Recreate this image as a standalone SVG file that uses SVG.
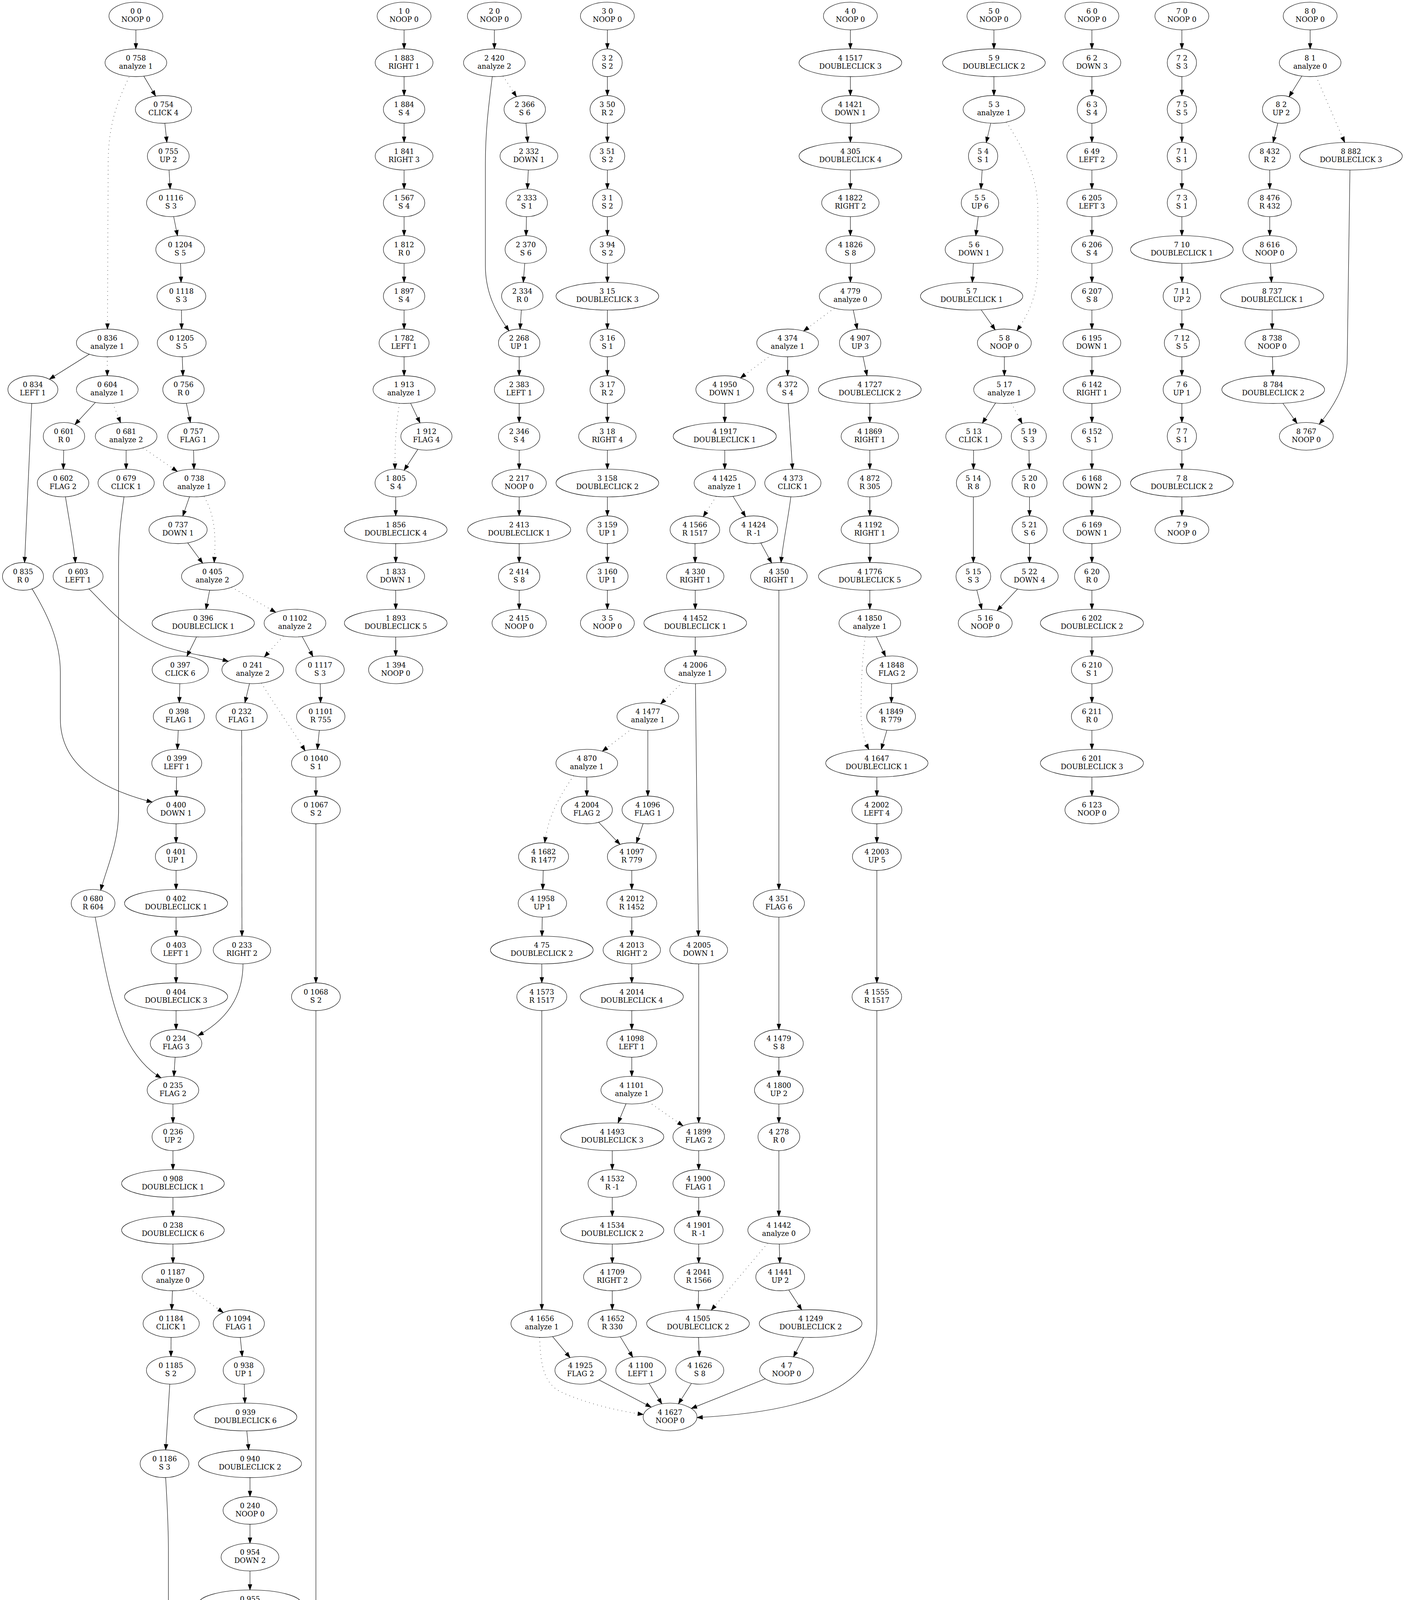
<svg xmlns="http://www.w3.org/2000/svg" width="3598" height="5467" viewBox="0 0 3598 5467">
<style>
.n ellipse{fill:none;stroke:#000;stroke-width:1.1}
text{font-family:"DejaVu Serif","Liberation Serif",serif;font-size:18px;text-anchor:middle;fill:#000}
.e path{fill:none;stroke:#000;stroke-width:1.1;marker-end:url(#a)}
.e path.d{stroke-width:1.3;stroke-dasharray:1.3 9.4}
</style>
<defs>
<marker id="a" markerUnits="userSpaceOnUse" markerWidth="14" markerHeight="10" refX="14" refY="5" orient="auto" overflow="visible">
<path d="M0,0L14,5L0,10Z" fill="#000" stroke="#000" stroke-width="1"/>
</marker>
</defs>
<rect width="3598" height="5467" fill="#fff"/>
<g id="nodes">
<!-- column 0 -->
<g id="n0_0" class="n"><ellipse cx="348" cy="41" rx="69" ry="35.5"/><text x="348" y="35">0 0<tspan x="348" dy="21">NOOP 0</tspan></text></g>
<g id="n0_758" class="n"><ellipse cx="348" cy="160.6" rx="79" ry="35.5"/><text x="348" y="154.6">0 758<tspan x="348" dy="21">analyze 1</tspan></text></g>
<g id="n0_754" class="n"><ellipse cx="418.6" cy="280.1" rx="72" ry="35.5"/><text x="418.6" y="274.1">0 754<tspan x="418.6" dy="21">CLICK 4</tspan></text></g>
<g id="n0_755" class="n"><ellipse cx="430.9" cy="399.7" rx="53.5" ry="35.5"/><text x="430.9" y="393.7">0 755<tspan x="430.9" dy="21">UP 2</tspan></text></g>
<g id="n0_1116" class="n"><ellipse cx="437.7" cy="519.2" rx="62.5" ry="35.5"/><text x="437.7" y="513.2">0 1116<tspan x="437.7" dy="21">S 3</tspan></text></g>
<g id="n0_1204" class="n"><ellipse cx="461.5" cy="638.8" rx="62.5" ry="35.5"/><text x="461.5" y="632.8">0 1204<tspan x="461.5" dy="21">S 5</tspan></text></g>
<g id="n0_1118" class="n"><ellipse cx="464.5" cy="758.3" rx="62.5" ry="35.5"/><text x="464.5" y="752.3">0 1118<tspan x="464.5" dy="21">S 3</tspan></text></g>
<g id="n0_1205" class="n"><ellipse cx="465.3" cy="877.9" rx="62.5" ry="35.5"/><text x="465.3" y="871.9">0 1205<tspan x="465.3" dy="21">S 5</tspan></text></g>
<g id="n0_836" class="n"><ellipse cx="274.7" cy="877.9" rx="79" ry="35.5"/><text x="274.7" y="871.9">0 836<tspan x="274.7" dy="21">analyze 1</tspan></text></g>
<g id="n0_834" class="n"><ellipse cx="84.2" cy="997.4" rx="64" ry="35.5"/><text x="84.2" y="991.4">0 834<tspan x="84.2" dy="21">LEFT 1</tspan></text></g>
<g id="n0_604" class="n"><ellipse cx="274.7" cy="997.4" rx="79" ry="35.5"/><text x="274.7" y="991.4">0 604<tspan x="274.7" dy="21">analyze 1</tspan></text></g>
<g id="n0_756" class="n"><ellipse cx="469.9" cy="997.4" rx="53" ry="35.5"/><text x="469.9" y="991.4">0 756<tspan x="469.9" dy="21">R 0</tspan></text></g>
<g id="n0_601" class="n"><ellipse cx="163.8" cy="1117" rx="53" ry="35.5"/><text x="163.8" y="1111">0 601<tspan x="163.8" dy="21">R 0</tspan></text></g>
<g id="n0_681" class="n"><ellipse cx="323" cy="1117" rx="79" ry="35.5"/><text x="323" y="1111">0 681<tspan x="323" dy="21">analyze 2</tspan></text></g>
<g id="n0_757" class="n"><ellipse cx="495" cy="1117" rx="65.5" ry="35.5"/><text x="495" y="1111">0 757<tspan x="495" dy="21">FLAG 1</tspan></text></g>
<g id="n0_602" class="n"><ellipse cx="161.5" cy="1236.5" rx="66" ry="35.5"/><text x="161.5" y="1230.5">0 602<tspan x="161.5" dy="21">FLAG 2</tspan></text></g>
<g id="n0_679" class="n"><ellipse cx="323" cy="1236.5" rx="72" ry="35.5"/><text x="323" y="1230.5">0 679<tspan x="323" dy="21">CLICK 1</tspan></text></g>
<g id="n0_738" class="n"><ellipse cx="497.4" cy="1236.5" rx="79" ry="35.5"/><text x="497.4" y="1230.5">0 738<tspan x="497.4" dy="21">analyze 1</tspan></text></g>
<g id="n0_737" class="n"><ellipse cx="456" cy="1356.1" rx="74.5" ry="35.5"/><text x="456" y="1350.1">0 737<tspan x="456" dy="21">DOWN 1</tspan></text></g>
<g id="n0_835" class="n"><ellipse cx="58.9" cy="1475.6" rx="52.5" ry="35.5"/><text x="58.9" y="1469.6">0 835<tspan x="58.9" dy="21">R 0</tspan></text></g>
<g id="n0_603" class="n"><ellipse cx="200" cy="1475.6" rx="64" ry="35.5"/><text x="200" y="1469.6">0 603<tspan x="200" dy="21">LEFT 1</tspan></text></g>
<g id="n0_405" class="n"><ellipse cx="543.8" cy="1475.6" rx="79" ry="35.5"/><text x="543.8" y="1469.6">0 405<tspan x="543.8" dy="21">analyze 2</tspan></text></g>
<g id="n0_396" class="n"><ellipse cx="520.5" cy="1595.2" rx="131" ry="35.5"/><text x="520.5" y="1589.2">0 396<tspan x="520.5" dy="21">DOUBLECLICK 1</tspan></text></g>
<g id="n0_1102" class="n"><ellipse cx="755.4" cy="1595.2" rx="79" ry="35.5"/><text x="755.4" y="1589.2">0 1102<tspan x="755.4" dy="21">analyze 2</tspan></text></g>
<g id="n0_397" class="n"><ellipse cx="461.6" cy="1714.7" rx="72" ry="35.5"/><text x="461.6" y="1708.7">0 397<tspan x="461.6" dy="21">CLICK 6</tspan></text></g>
<g id="n0_241" class="n"><ellipse cx="647.3" cy="1714.7" rx="79" ry="35.5"/><text x="647.3" y="1708.7">0 241<tspan x="647.3" dy="21">analyze 2</tspan></text></g>
<g id="n0_1117" class="n"><ellipse cx="819.6" cy="1714.7" rx="62" ry="35.5"/><text x="819.6" y="1708.7">0 1117<tspan x="819.6" dy="21">S 3</tspan></text></g>
<g id="n0_398" class="n"><ellipse cx="458" cy="1834.3" rx="65.5" ry="35.5"/><text x="458" y="1828.3">0 398<tspan x="458" dy="21">FLAG 1</tspan></text></g>
<g id="n0_232" class="n"><ellipse cx="618.8" cy="1834.3" rx="65.5" ry="35.5"/><text x="618.8" y="1828.3">0 232<tspan x="618.8" dy="21">FLAG 1</tspan></text></g>
<g id="n0_1101" class="n"><ellipse cx="821.4" cy="1834.3" rx="62" ry="35.5"/><text x="821.4" y="1828.3">0 1101<tspan x="821.4" dy="21">R 755</tspan></text></g>
<g id="n0_399" class="n"><ellipse cx="452.7" cy="1953.8" rx="64" ry="35.5"/><text x="452.7" y="1947.8">0 399<tspan x="452.7" dy="21">LEFT 1</tspan></text></g>
<g id="n0_1040" class="n"><ellipse cx="809" cy="1953.8" rx="62.5" ry="35.5"/><text x="809" y="1947.8">0 1040<tspan x="809" dy="21">S 1</tspan></text></g>
<g id="n0_400" class="n"><ellipse cx="450.9" cy="2073.4" rx="74" ry="35.5"/><text x="450.9" y="2067.4">0 400<tspan x="450.9" dy="21">DOWN 1</tspan></text></g>
<g id="n0_1067" class="n"><ellipse cx="809" cy="2073.4" rx="62.5" ry="35.5"/><text x="809" y="2067.4">0 1067<tspan x="809" dy="21">S 2</tspan></text></g>
<g id="n0_401" class="n"><ellipse cx="450.9" cy="2192.9" rx="53" ry="35.5"/><text x="450.9" y="2186.9">0 401<tspan x="450.9" dy="21">UP 1</tspan></text></g>
<g id="n0_680" class="n"><ellipse cx="238.4" cy="2312.5" rx="56" ry="35.5"/><text x="238.4" y="2306.5">0 680<tspan x="238.4" dy="21">R 604</tspan></text></g>
<g id="n0_402" class="n"><ellipse cx="450.9" cy="2312.5" rx="132" ry="35.5"/><text x="450.9" y="2306.5">0 402<tspan x="450.9" dy="21">DOUBLECLICK 1</tspan></text></g>
<g id="n0_403" class="n"><ellipse cx="450.9" cy="2432" rx="64" ry="35.5"/><text x="450.9" y="2426">0 403<tspan x="450.9" dy="21">LEFT 1</tspan></text></g>
<g id="n0_233" class="n"><ellipse cx="619.6" cy="2432" rx="73.5" ry="35.5"/><text x="619.6" y="2426">0 233<tspan x="619.6" dy="21">RIGHT 2</tspan></text></g>
<g id="n0_404" class="n"><ellipse cx="450.9" cy="2551.6" rx="132" ry="35.5"/><text x="450.9" y="2545.6">0 404<tspan x="450.9" dy="21">DOUBLECLICK 3</tspan></text></g>
<g id="n0_1068" class="n"><ellipse cx="809" cy="2551.6" rx="62.5" ry="35.5"/><text x="809" y="2545.6">0 1068<tspan x="809" dy="21">S 2</tspan></text></g>
<g id="n0_234" class="n"><ellipse cx="450.9" cy="2671.1" rx="66" ry="35.5"/><text x="450.9" y="2665.1">0 234<tspan x="450.9" dy="21">FLAG 3</tspan></text></g>
<g id="n0_235" class="n"><ellipse cx="442.9" cy="2790.7" rx="66" ry="35.5"/><text x="442.9" y="2784.7">0 235<tspan x="442.9" dy="21">FLAG 2</tspan></text></g>
<g id="n0_236" class="n"><ellipse cx="442.9" cy="2910.2" rx="53.5" ry="35.5"/><text x="442.9" y="2904.2">0 236<tspan x="442.9" dy="21">UP 2</tspan></text></g>
<g id="n0_908" class="n"><ellipse cx="442.9" cy="3029.8" rx="131.5" ry="35.5"/><text x="442.9" y="3023.8">0 908<tspan x="442.9" dy="21">DOUBLECLICK 1</tspan></text></g>
<g id="n0_238" class="n"><ellipse cx="442.9" cy="3149.3" rx="131.5" ry="35.5"/><text x="442.9" y="3143.3">0 238<tspan x="442.9" dy="21">DOUBLECLICK 6</tspan></text></g>
<g id="n0_1187" class="n"><ellipse cx="442.9" cy="3268.9" rx="79" ry="35.5"/><text x="442.9" y="3262.9">0 1187<tspan x="442.9" dy="21">analyze 0</tspan></text></g>
<g id="n0_1184" class="n"><ellipse cx="438.4" cy="3388.4" rx="72" ry="35.5"/><text x="438.4" y="3382.4">0 1184<tspan x="438.4" dy="21">CLICK 1</tspan></text></g>
<g id="n0_1094" class="n"><ellipse cx="611.6" cy="3388.4" rx="65.5" ry="35.5"/><text x="611.6" y="3382.4">0 1094<tspan x="611.6" dy="21">FLAG 1</tspan></text></g>
<g id="n0_1185" class="n"><ellipse cx="437.5" cy="3508" rx="62.5" ry="35.5"/><text x="437.5" y="3502">0 1185<tspan x="437.5" dy="21">S 2</tspan></text></g>
<g id="n0_938" class="n"><ellipse cx="624" cy="3508" rx="52.5" ry="35.5"/><text x="624" y="3502">0 938<tspan x="624" dy="21">UP 1</tspan></text></g>
<g id="n0_939" class="n"><ellipse cx="628.6" cy="3627.5" rx="131.5" ry="35.5"/><text x="628.6" y="3621.5">0 939<tspan x="628.6" dy="21">DOUBLECLICK 6</tspan></text></g>
<g id="n0_1186" class="n"><ellipse cx="421.4" cy="3747.1" rx="62.5" ry="35.5"/><text x="421.4" y="3741.1">0 1186<tspan x="421.4" dy="21">S 3</tspan></text></g>
<g id="n0_940" class="n"><ellipse cx="640.2" cy="3747.1" rx="132" ry="35.5"/><text x="640.2" y="3741.1">0 940<tspan x="640.2" dy="21">DOUBLECLICK 2</tspan></text></g>
<g id="n0_240" class="n"><ellipse cx="640.2" cy="3866.6" rx="69" ry="35.5"/><text x="640.2" y="3860.6">0 240<tspan x="640.2" dy="21">NOOP 0</tspan></text></g>
<g id="n0_954" class="n"><ellipse cx="640.2" cy="3986.2" rx="74" ry="35.5"/><text x="640.2" y="3980.2">0 954<tspan x="640.2" dy="21">DOWN 2</tspan></text></g>
<g id="n0_955" class="n"><ellipse cx="640.2" cy="4105.7" rx="132" ry="35.5"/><text x="640.2" y="4099.7">0 955<tspan x="640.2" dy="21">DOUBLECLICK 5</tspan></text></g>
<g id="n0_1104" class="n"><ellipse cx="640.2" cy="4225.3" rx="79" ry="35.5"/><text x="640.2" y="4219.3">0 1104<tspan x="640.2" dy="21">analyze 1</tspan></text></g>
<g id="n0_1037" class="n"><ellipse cx="675.9" cy="4344.8" rx="62.5" ry="35.5"/><text x="675.9" y="4338.8">0 1037<tspan x="675.9" dy="21">S 1</tspan></text></g>
<g id="n0_1103" class="n"><ellipse cx="549.1" cy="4464.4" rx="66" ry="35.5"/><text x="549.1" y="4458.4">0 1103<tspan x="549.1" dy="21">FLAG 6</tspan></text></g>
<g id="n0_1038" class="n"><ellipse cx="701.8" cy="4464.4" rx="62.5" ry="35.5"/><text x="701.8" y="4458.4">0 1038<tspan x="701.8" dy="21">S 1</tspan></text></g>
<g id="n0_1039" class="n"><ellipse cx="684" cy="4583.9" rx="62.5" ry="35.5"/><text x="684" y="4577.9">0 1039<tspan x="684" dy="21">S 1</tspan></text></g>
<g id="n0_956" class="n"><ellipse cx="610.7" cy="4703.5" rx="69.5" ry="35.5"/><text x="610.7" y="4697.5">0 956<tspan x="610.7" dy="21">NOOP 0</tspan></text></g>
<g id="n0_1225" class="n"><ellipse cx="571.4" cy="4823" rx="62.5" ry="35.5"/><text x="571.4" y="4817">0 1225<tspan x="571.4" dy="21">S 7</tspan></text></g>
<g id="n0_1066" class="n"><ellipse cx="533" cy="4942.6" rx="62" ry="35.5"/><text x="533" y="4936.6">0 1066<tspan x="533" dy="21">S 2</tspan></text></g>
<g id="n0_1115" class="n"><ellipse cx="479.5" cy="5062.1" rx="62.5" ry="35.5"/><text x="479.5" y="5056.1">0 1115<tspan x="479.5" dy="21">S 3</tspan></text></g>
<g id="n0_1203" class="n"><ellipse cx="479.5" cy="5181.7" rx="62.5" ry="35.5"/><text x="479.5" y="5175.7">0 1203<tspan x="479.5" dy="21">S 5</tspan></text></g>
<g id="n0_1224" class="n"><ellipse cx="479.5" cy="5301.2" rx="62.5" ry="35.5"/><text x="479.5" y="5295.2">0 1224<tspan x="479.5" dy="21">S 7</tspan></text></g>
<g id="n0_1218" class="n"><ellipse cx="479.5" cy="5420.8" rx="69.5" ry="35.5"/><text x="479.5" y="5414.8">0 1218<tspan x="479.5" dy="21">NOOP 0</tspan></text></g>
<!-- column 1 -->
<g id="n1_0" class="n"><ellipse cx="1034.8" cy="41" rx="69" ry="35.5"/><text x="1034.8" y="35">1 0<tspan x="1034.8" dy="21">NOOP 0</tspan></text></g>
<g id="n1_883" class="n"><ellipse cx="1034.8" cy="160.6" rx="74" ry="35.5"/><text x="1034.8" y="154.6">1 883<tspan x="1034.8" dy="21">RIGHT 1</tspan></text></g>
<g id="n1_884" class="n"><ellipse cx="1034.8" cy="280.1" rx="53" ry="35.5"/><text x="1034.8" y="274.1">1 884<tspan x="1034.8" dy="21">S 4</tspan></text></g>
<g id="n1_841" class="n"><ellipse cx="1034.8" cy="399.7" rx="74" ry="35.5"/><text x="1034.8" y="393.7">1 841<tspan x="1034.8" dy="21">RIGHT 3</tspan></text></g>
<g id="n1_567" class="n"><ellipse cx="1034.8" cy="519.2" rx="53" ry="35.5"/><text x="1034.8" y="513.2">1 567<tspan x="1034.8" dy="21">S 4</tspan></text></g>
<g id="n1_812" class="n"><ellipse cx="1034.8" cy="638.8" rx="53" ry="35.5"/><text x="1034.8" y="632.8">1 812<tspan x="1034.8" dy="21">R 0</tspan></text></g>
<g id="n1_897" class="n"><ellipse cx="1034.8" cy="758.3" rx="53" ry="35.5"/><text x="1034.8" y="752.3">1 897<tspan x="1034.8" dy="21">S 4</tspan></text></g>
<g id="n1_782" class="n"><ellipse cx="1034.8" cy="877.9" rx="64" ry="35.5"/><text x="1034.8" y="871.9">1 782<tspan x="1034.8" dy="21">LEFT 1</tspan></text></g>
<g id="n1_913" class="n"><ellipse cx="1034.8" cy="997.4" rx="79.5" ry="35.5"/><text x="1034.8" y="991.4">1 913<tspan x="1034.8" dy="21">analyze 1</tspan></text></g>
<g id="n1_912" class="n"><ellipse cx="1092" cy="1117" rx="65.5" ry="35.5"/><text x="1092" y="1111">1 912<tspan x="1092" dy="21">FLAG 4</tspan></text></g>
<g id="n1_805" class="n"><ellipse cx="1013.4" cy="1236.5" rx="53" ry="35.5"/><text x="1013.4" y="1230.5">1 805<tspan x="1013.4" dy="21">S 4</tspan></text></g>
<g id="n1_856" class="n"><ellipse cx="1013.4" cy="1356.1" rx="131.5" ry="35.5"/><text x="1013.4" y="1350.1">1 856<tspan x="1013.4" dy="21">DOUBLECLICK 4</tspan></text></g>
<g id="n1_833" class="n"><ellipse cx="1013.4" cy="1475.6" rx="74" ry="35.5"/><text x="1013.4" y="1469.6">1 833<tspan x="1013.4" dy="21">DOWN 1</tspan></text></g>
<g id="n1_893" class="n"><ellipse cx="1013.4" cy="1595.2" rx="131.5" ry="35.5"/><text x="1013.4" y="1589.2">1 893<tspan x="1013.4" dy="21">DOUBLECLICK 5</tspan></text></g>
<g id="n1_394" class="n"><ellipse cx="1013.4" cy="1714.7" rx="69.5" ry="35.5"/><text x="1013.4" y="1708.7">1 394<tspan x="1013.4" dy="21">NOOP 0</tspan></text></g>
<!-- column 2 -->
<g id="n2_0" class="n"><ellipse cx="1266" cy="41" rx="69" ry="35.5"/><text x="1266" y="35">2 0<tspan x="1266" dy="21">NOOP 0</tspan></text></g>
<g id="n2_420" class="n"><ellipse cx="1266" cy="160.6" rx="79" ry="35.5"/><text x="1266" y="154.6">2 420<tspan x="1266" dy="21">analyze 2</tspan></text></g>
<g id="n2_366" class="n"><ellipse cx="1343.8" cy="280.1" rx="53" ry="35.5"/><text x="1343.8" y="274.1">2 366<tspan x="1343.8" dy="21">S 6</tspan></text></g>
<g id="n2_332" class="n"><ellipse cx="1354.5" cy="399.7" rx="74" ry="35.5"/><text x="1354.5" y="393.7">2 332<tspan x="1354.5" dy="21">DOWN 1</tspan></text></g>
<g id="n2_333" class="n"><ellipse cx="1349" cy="519.2" rx="53" ry="35.5"/><text x="1349" y="513.2">2 333<tspan x="1349" dy="21">S 1</tspan></text></g>
<g id="n2_370" class="n"><ellipse cx="1346.4" cy="638.8" rx="53" ry="35.5"/><text x="1346.4" y="632.8">2 370<tspan x="1346.4" dy="21">S 6</tspan></text></g>
<g id="n2_334" class="n"><ellipse cx="1337.5" cy="758.3" rx="53" ry="35.5"/><text x="1337.5" y="752.3">2 334<tspan x="1337.5" dy="21">R 0</tspan></text></g>
<g id="n2_268" class="n"><ellipse cx="1329.5" cy="877.9" rx="53" ry="35.5"/><text x="1329.5" y="871.9">2 268<tspan x="1329.5" dy="21">UP 1</tspan></text></g>
<g id="n2_383" class="n"><ellipse cx="1329.5" cy="997.4" rx="63.5" ry="35.5"/><text x="1329.5" y="991.4">2 383<tspan x="1329.5" dy="21">LEFT 1</tspan></text></g>
<g id="n2_346" class="n"><ellipse cx="1329.5" cy="1117" rx="53" ry="35.5"/><text x="1329.5" y="1111">2 346<tspan x="1329.5" dy="21">S 4</tspan></text></g>
<g id="n2_217" class="n"><ellipse cx="1329.5" cy="1236.5" rx="69.5" ry="35.5"/><text x="1329.5" y="1230.5">2 217<tspan x="1329.5" dy="21">NOOP 0</tspan></text></g>
<g id="n2_413" class="n"><ellipse cx="1329.5" cy="1356.1" rx="132" ry="35.5"/><text x="1329.5" y="1350.1">2 413<tspan x="1329.5" dy="21">DOUBLECLICK 1</tspan></text></g>
<g id="n2_414" class="n"><ellipse cx="1329.5" cy="1475.6" rx="53" ry="35.5"/><text x="1329.5" y="1469.6">2 414<tspan x="1329.5" dy="21">S 8</tspan></text></g>
<g id="n2_415" class="n"><ellipse cx="1329.5" cy="1595.2" rx="69.5" ry="35.5"/><text x="1329.5" y="1589.2">2 415<tspan x="1329.5" dy="21">NOOP 0</tspan></text></g>
<!-- column 3 -->
<g id="n3_0" class="n"><ellipse cx="1555.4" cy="41" rx="69" ry="35.5"/><text x="1555.4" y="35">3 0<tspan x="1555.4" dy="21">NOOP 0</tspan></text></g>
<g id="n3_2" class="n"><ellipse cx="1555.4" cy="160.6" rx="38" ry="35.5"/><text x="1555.4" y="154.6">3 2<tspan x="1555.4" dy="21">S 2</tspan></text></g>
<g id="n3_50" class="n"><ellipse cx="1555.4" cy="280.1" rx="44.5" ry="35.5"/><text x="1555.4" y="274.1">3 50<tspan x="1555.4" dy="21">R 2</tspan></text></g>
<g id="n3_51" class="n"><ellipse cx="1555.4" cy="399.7" rx="44.5" ry="35.5"/><text x="1555.4" y="393.7">3 51<tspan x="1555.4" dy="21">S 2</tspan></text></g>
<g id="n3_1" class="n"><ellipse cx="1555.4" cy="519.2" rx="38" ry="35.5"/><text x="1555.4" y="513.2">3 1<tspan x="1555.4" dy="21">S 2</tspan></text></g>
<g id="n3_94" class="n"><ellipse cx="1555.4" cy="638.8" rx="44.5" ry="35.5"/><text x="1555.4" y="632.8">3 94<tspan x="1555.4" dy="21">S 2</tspan></text></g>
<g id="n3_15" class="n"><ellipse cx="1555.4" cy="758.3" rx="131.5" ry="35.5"/><text x="1555.4" y="752.3">3 15<tspan x="1555.4" dy="21">DOUBLECLICK 3</tspan></text></g>
<g id="n3_16" class="n"><ellipse cx="1555.4" cy="877.9" rx="44.5" ry="35.5"/><text x="1555.4" y="871.9">3 16<tspan x="1555.4" dy="21">S 1</tspan></text></g>
<g id="n3_17" class="n"><ellipse cx="1555.4" cy="997.4" rx="44.5" ry="35.5"/><text x="1555.4" y="991.4">3 17<tspan x="1555.4" dy="21">R 2</tspan></text></g>
<g id="n3_18" class="n"><ellipse cx="1555.4" cy="1117" rx="73.5" ry="35.5"/><text x="1555.4" y="1111">3 18<tspan x="1555.4" dy="21">RIGHT 4</tspan></text></g>
<g id="n3_158" class="n"><ellipse cx="1555.4" cy="1236.5" rx="131.5" ry="35.5"/><text x="1555.4" y="1230.5">3 158<tspan x="1555.4" dy="21">DOUBLECLICK 2</tspan></text></g>
<g id="n3_159" class="n"><ellipse cx="1555.4" cy="1356.1" rx="52.5" ry="35.5"/><text x="1555.4" y="1350.1">3 159<tspan x="1555.4" dy="21">UP 1</tspan></text></g>
<g id="n3_160" class="n"><ellipse cx="1555.4" cy="1475.6" rx="53" ry="35.5"/><text x="1555.4" y="1469.6">3 160<tspan x="1555.4" dy="21">UP 1</tspan></text></g>
<g id="n3_5" class="n"><ellipse cx="1555.4" cy="1595.2" rx="69" ry="35.5"/><text x="1555.4" y="1589.2">3 5<tspan x="1555.4" dy="21">NOOP 0</tspan></text></g>
<!-- column 4 -->
<g id="n4_0" class="n"><ellipse cx="2177.7" cy="41" rx="69" ry="35.5"/><text x="2177.7" y="35">4 0<tspan x="2177.7" dy="21">NOOP 0</tspan></text></g>
<g id="n4_1517" class="n"><ellipse cx="2177.7" cy="160.6" rx="131.5" ry="35.5"/><text x="2177.7" y="154.6">4 1517<tspan x="2177.7" dy="21">DOUBLECLICK 3</tspan></text></g>
<g id="n4_1421" class="n"><ellipse cx="2177.7" cy="280.1" rx="73.5" ry="35.5"/><text x="2177.7" y="274.1">4 1421<tspan x="2177.7" dy="21">DOWN 1</tspan></text></g>
<g id="n4_305" class="n"><ellipse cx="2177.7" cy="399.7" rx="131.5" ry="35.5"/><text x="2177.7" y="393.7">4 305<tspan x="2177.7" dy="21">DOUBLECLICK 4</tspan></text></g>
<g id="n4_1822" class="n"><ellipse cx="2177.7" cy="519.2" rx="73.5" ry="35.5"/><text x="2177.7" y="513.2">4 1822<tspan x="2177.7" dy="21">RIGHT 2</tspan></text></g>
<g id="n4_1826" class="n"><ellipse cx="2177.7" cy="638.8" rx="62.5" ry="35.5"/><text x="2177.7" y="632.8">4 1826<tspan x="2177.7" dy="21">S 8</tspan></text></g>
<g id="n4_779" class="n"><ellipse cx="2177.7" cy="758.3" rx="79.5" ry="35.5"/><text x="2177.7" y="752.3">4 779<tspan x="2177.7" dy="21">analyze 0</tspan></text></g>
<g id="n4_374" class="n"><ellipse cx="2017" cy="877.9" rx="79" ry="35.5"/><text x="2017" y="871.9">4 374<tspan x="2017" dy="21">analyze 1</tspan></text></g>
<g id="n4_907" class="n"><ellipse cx="2202.7" cy="877.9" rx="53" ry="35.5"/><text x="2202.7" y="871.9">4 907<tspan x="2202.7" dy="21">UP 3</tspan></text></g>
<g id="n4_1950" class="n"><ellipse cx="1856" cy="997.4" rx="74" ry="35.5"/><text x="1856" y="991.4">4 1950<tspan x="1856" dy="21">DOWN 1</tspan></text></g>
<g id="n4_372" class="n"><ellipse cx="2017" cy="997.4" rx="53" ry="35.5"/><text x="2017" y="991.4">4 372<tspan x="2017" dy="21">S 4</tspan></text></g>
<g id="n4_1727" class="n"><ellipse cx="2227.5" cy="997.4" rx="131.5" ry="35.5"/><text x="2227.5" y="991.4">4 1727<tspan x="2227.5" dy="21">DOUBLECLICK 2</tspan></text></g>
<g id="n4_1917" class="n"><ellipse cx="1856" cy="1117" rx="132" ry="35.5"/><text x="1856" y="1111">4 1917<tspan x="1856" dy="21">DOUBLECLICK 1</tspan></text></g>
<g id="n4_1869" class="n"><ellipse cx="2227.5" cy="1117" rx="73.5" ry="35.5"/><text x="2227.5" y="1111">4 1869<tspan x="2227.5" dy="21">RIGHT 1</tspan></text></g>
<g id="n4_1425" class="n"><ellipse cx="1856" cy="1236.5" rx="78.5" ry="35.5"/><text x="1856" y="1230.5">4 1425<tspan x="1856" dy="21">analyze 1</tspan></text></g>
<g id="n4_373" class="n"><ellipse cx="2030.4" cy="1236.5" rx="72" ry="35.5"/><text x="2030.4" y="1230.5">4 373<tspan x="2030.4" dy="21">CLICK 1</tspan></text></g>
<g id="n4_872" class="n"><ellipse cx="2227.5" cy="1236.5" rx="56" ry="35.5"/><text x="2227.5" y="1230.5">4 872<tspan x="2227.5" dy="21">R 305</tspan></text></g>
<g id="n4_1566" class="n"><ellipse cx="1779.5" cy="1356.1" rx="63.5" ry="35.5"/><text x="1779.5" y="1350.1">4 1566<tspan x="1779.5" dy="21">R 1517</tspan></text></g>
<g id="n4_1424" class="n"><ellipse cx="1930" cy="1356.1" rx="61.5" ry="35.5"/><text x="1930" y="1350.1">4 1424<tspan x="1930" dy="21">R -1</tspan></text></g>
<g id="n4_1192" class="n"><ellipse cx="2227.5" cy="1356.1" rx="73.5" ry="35.5"/><text x="2227.5" y="1350.1">4 1192<tspan x="2227.5" dy="21">RIGHT 1</tspan></text></g>
<g id="n4_330" class="n"><ellipse cx="1780.4" cy="1475.6" rx="73.5" ry="35.5"/><text x="1780.4" y="1469.6">4 330<tspan x="1780.4" dy="21">RIGHT 1</tspan></text></g>
<g id="n4_350" class="n"><ellipse cx="1994.6" cy="1475.6" rx="72.5" ry="35.5"/><text x="1994.6" y="1469.6">4 350<tspan x="1994.6" dy="21">RIGHT 1</tspan></text></g>
<g id="n4_1776" class="n"><ellipse cx="2227.5" cy="1475.6" rx="131.5" ry="35.5"/><text x="2227.5" y="1469.6">4 1776<tspan x="2227.5" dy="21">DOUBLECLICK 5</tspan></text></g>
<g id="n4_1452" class="n"><ellipse cx="1780.4" cy="1595.2" rx="131.5" ry="35.5"/><text x="1780.4" y="1589.2">4 1452<tspan x="1780.4" dy="21">DOUBLECLICK 1</tspan></text></g>
<g id="n4_1850" class="n"><ellipse cx="2227.5" cy="1595.2" rx="79" ry="35.5"/><text x="2227.5" y="1589.2">4 1850<tspan x="2227.5" dy="21">analyze 1</tspan></text></g>
<g id="n4_2006" class="n"><ellipse cx="1780.4" cy="1714.7" rx="78.5" ry="35.5"/><text x="1780.4" y="1708.7">4 2006<tspan x="1780.4" dy="21">analyze 1</tspan></text></g>
<g id="n4_1848" class="n"><ellipse cx="2284" cy="1714.7" rx="65.5" ry="35.5"/><text x="2284" y="1708.7">4 1848<tspan x="2284" dy="21">FLAG 2</tspan></text></g>
<g id="n4_1477" class="n"><ellipse cx="1659" cy="1834.3" rx="79" ry="35.5"/><text x="1659" y="1828.3">4 1477<tspan x="1659" dy="21">analyze 1</tspan></text></g>
<g id="n4_1849" class="n"><ellipse cx="2282" cy="1834.3" rx="62.5" ry="35.5"/><text x="2282" y="1828.3">4 1849<tspan x="2282" dy="21">R 779</tspan></text></g>
<g id="n4_870" class="n"><ellipse cx="1502.7" cy="1953.8" rx="79" ry="35.5"/><text x="1502.7" y="1947.8">4 870<tspan x="1502.7" dy="21">analyze 1</tspan></text></g>
<g id="n4_1647" class="n"><ellipse cx="2245.5" cy="1953.8" rx="131" ry="35.5"/><text x="2245.5" y="1947.8">4 1647<tspan x="2245.5" dy="21">DOUBLECLICK 1</tspan></text></g>
<g id="n4_2004" class="n"><ellipse cx="1502.7" cy="2073.4" rx="65.5" ry="35.5"/><text x="1502.7" y="2067.4">4 2004<tspan x="1502.7" dy="21">FLAG 2</tspan></text></g>
<g id="n4_1096" class="n"><ellipse cx="1659" cy="2073.4" rx="66" ry="35.5"/><text x="1659" y="2067.4">4 1096<tspan x="1659" dy="21">FLAG 1</tspan></text></g>
<g id="n4_2002" class="n"><ellipse cx="2245.5" cy="2073.4" rx="64" ry="35.5"/><text x="2245.5" y="2067.4">4 2002<tspan x="2245.5" dy="21">LEFT 4</tspan></text></g>
<g id="n4_1682" class="n"><ellipse cx="1392" cy="2192.9" rx="64" ry="35.5"/><text x="1392" y="2186.9">4 1682<tspan x="1392" dy="21">R 1477</tspan></text></g>
<g id="n4_1097" class="n"><ellipse cx="1617.9" cy="2192.9" rx="62.5" ry="35.5"/><text x="1617.9" y="2186.9">4 1097<tspan x="1617.9" dy="21">R 779</tspan></text></g>
<g id="n4_2003" class="n"><ellipse cx="2245.5" cy="2192.9" rx="62.5" ry="35.5"/><text x="2245.5" y="2186.9">4 2003<tspan x="2245.5" dy="21">UP 5</tspan></text></g>
<g id="n4_1958" class="n"><ellipse cx="1389" cy="2312.5" rx="62" ry="35.5"/><text x="1389" y="2306.5">4 1958<tspan x="1389" dy="21">UP 1</tspan></text></g>
<g id="n4_2012" class="n"><ellipse cx="1617.9" cy="2312.5" rx="64" ry="35.5"/><text x="1617.9" y="2306.5">4 2012<tspan x="1617.9" dy="21">R 1452</tspan></text></g>
<g id="n4_351" class="n"><ellipse cx="1994.6" cy="2312.5" rx="65.5" ry="35.5"/><text x="1994.6" y="2306.5">4 351<tspan x="1994.6" dy="21">FLAG 6</tspan></text></g>
<g id="n4_75" class="n"><ellipse cx="1387.5" cy="2432" rx="131.5" ry="35.5"/><text x="1387.5" y="2426">4 75<tspan x="1387.5" dy="21">DOUBLECLICK 2</tspan></text></g>
<g id="n4_2013" class="n"><ellipse cx="1617.9" cy="2432" rx="73.5" ry="35.5"/><text x="1617.9" y="2426">4 2013<tspan x="1617.9" dy="21">RIGHT 2</tspan></text></g>
<g id="n4_2005" class="n"><ellipse cx="1789.3" cy="2432" rx="74" ry="35.5"/><text x="1789.3" y="2426">4 2005<tspan x="1789.3" dy="21">DOWN 1</tspan></text></g>
<g id="n4_1573" class="n"><ellipse cx="1387.5" cy="2551.6" rx="64" ry="35.5"/><text x="1387.5" y="2545.6">4 1573<tspan x="1387.5" dy="21">R 1517</tspan></text></g>
<g id="n4_2014" class="n"><ellipse cx="1617.9" cy="2551.6" rx="132" ry="35.5"/><text x="1617.9" y="2545.6">4 2014<tspan x="1617.9" dy="21">DOUBLECLICK 4</tspan></text></g>
<g id="n4_1555" class="n"><ellipse cx="2245.5" cy="2551.6" rx="63.5" ry="35.5"/><text x="2245.5" y="2545.6">4 1555<tspan x="2245.5" dy="21">R 1517</tspan></text></g>
<g id="n4_1098" class="n"><ellipse cx="1617.9" cy="2671.1" rx="64" ry="35.5"/><text x="1617.9" y="2665.1">4 1098<tspan x="1617.9" dy="21">LEFT 1</tspan></text></g>
<g id="n4_1479" class="n"><ellipse cx="1994.6" cy="2671.1" rx="62.5" ry="35.5"/><text x="1994.6" y="2665.1">4 1479<tspan x="1994.6" dy="21">S 8</tspan></text></g>
<g id="n4_1101" class="n"><ellipse cx="1617.9" cy="2790.7" rx="79" ry="35.5"/><text x="1617.9" y="2784.7">4 1101<tspan x="1617.9" dy="21">analyze 1</tspan></text></g>
<g id="n4_1800" class="n"><ellipse cx="1994.6" cy="2790.7" rx="62.5" ry="35.5"/><text x="1994.6" y="2784.7">4 1800<tspan x="1994.6" dy="21">UP 2</tspan></text></g>
<g id="n4_1493" class="n"><ellipse cx="1567.9" cy="2910.2" rx="132" ry="35.5"/><text x="1567.9" y="2904.2">4 1493<tspan x="1567.9" dy="21">DOUBLECLICK 3</tspan></text></g>
<g id="n4_1899" class="n"><ellipse cx="1789.3" cy="2910.2" rx="66" ry="35.5"/><text x="1789.3" y="2904.2">4 1899<tspan x="1789.3" dy="21">FLAG 2</tspan></text></g>
<g id="n4_278" class="n"><ellipse cx="1994.6" cy="2910.2" rx="53.5" ry="35.5"/><text x="1994.6" y="2904.2">4 278<tspan x="1994.6" dy="21">R 0</tspan></text></g>
<g id="n4_1532" class="n"><ellipse cx="1567.9" cy="3029.8" rx="62" ry="35.5"/><text x="1567.9" y="3023.8">4 1532<tspan x="1567.9" dy="21">R -1</tspan></text></g>
<g id="n4_1900" class="n"><ellipse cx="1789.3" cy="3029.8" rx="66" ry="35.5"/><text x="1789.3" y="3023.8">4 1900<tspan x="1789.3" dy="21">FLAG 1</tspan></text></g>
<g id="n4_1534" class="n"><ellipse cx="1567.9" cy="3149.3" rx="132" ry="35.5"/><text x="1567.9" y="3143.3">4 1534<tspan x="1567.9" dy="21">DOUBLECLICK 2</tspan></text></g>
<g id="n4_1901" class="n"><ellipse cx="1789.3" cy="3149.3" rx="62.5" ry="35.5"/><text x="1789.3" y="3143.3">4 1901<tspan x="1789.3" dy="21">R -1</tspan></text></g>
<g id="n4_1442" class="n"><ellipse cx="1994.6" cy="3149.3" rx="79.5" ry="35.5"/><text x="1994.6" y="3143.3">4 1442<tspan x="1994.6" dy="21">analyze 0</tspan></text></g>
<g id="n4_1709" class="n"><ellipse cx="1567.9" cy="3268.9" rx="73.5" ry="35.5"/><text x="1567.9" y="3262.9">4 1709<tspan x="1567.9" dy="21">RIGHT 2</tspan></text></g>
<g id="n4_2041" class="n"><ellipse cx="1789.3" cy="3268.9" rx="62.5" ry="35.5"/><text x="1789.3" y="3262.9">4 2041<tspan x="1789.3" dy="21">R 1566</tspan></text></g>
<g id="n4_1441" class="n"><ellipse cx="1998" cy="3268.9" rx="62.5" ry="35.5"/><text x="1998" y="3262.9">4 1441<tspan x="1998" dy="21">UP 2</tspan></text></g>
<g id="n4_1656" class="n"><ellipse cx="1387.5" cy="3388.4" rx="79" ry="35.5"/><text x="1387.5" y="3382.4">4 1656<tspan x="1387.5" dy="21">analyze 1</tspan></text></g>
<g id="n4_1652" class="n"><ellipse cx="1567.9" cy="3388.4" rx="62" ry="35.5"/><text x="1567.9" y="3382.4">4 1652<tspan x="1567.9" dy="21">R 330</tspan></text></g>
<g id="n4_1505" class="n"><ellipse cx="1787.5" cy="3388.4" rx="131.5" ry="35.5"/><text x="1787.5" y="3382.4">4 1505<tspan x="1787.5" dy="21">DOUBLECLICK 2</tspan></text></g>
<g id="n4_1249" class="n"><ellipse cx="2075.9" cy="3388.4" rx="131.5" ry="35.5"/><text x="2075.9" y="3382.4">4 1249<tspan x="2075.9" dy="21">DOUBLECLICK 2</tspan></text></g>
<g id="n4_1925" class="n"><ellipse cx="1486.6" cy="3508" rx="65.5" ry="35.5"/><text x="1486.6" y="3502">4 1925<tspan x="1486.6" dy="21">FLAG 2</tspan></text></g>
<g id="n4_1100" class="n"><ellipse cx="1641" cy="3508" rx="64" ry="35.5"/><text x="1641" y="3502">4 1100<tspan x="1641" dy="21">LEFT 1</tspan></text></g>
<g id="n4_1626" class="n"><ellipse cx="1792" cy="3508" rx="61.5" ry="35.5"/><text x="1792" y="3502">4 1626<tspan x="1792" dy="21">S 8</tspan></text></g>
<g id="n4_7" class="n"><ellipse cx="2014.3" cy="3508" rx="69" ry="35.5"/><text x="2014.3" y="3502">4 7<tspan x="2014.3" dy="21">NOOP 0</tspan></text></g>
<g id="n4_1627" class="n"><ellipse cx="1716" cy="3627.5" rx="69" ry="35.5"/><text x="1716" y="3621.5">4 1627<tspan x="1716" dy="21">NOOP 0</tspan></text></g>
<!-- column 5 -->
<g id="n5_0" class="n"><ellipse cx="2545.3" cy="41" rx="69" ry="35.5"/><text x="2545.3" y="35">5 0<tspan x="2545.3" dy="21">NOOP 0</tspan></text></g>
<g id="n5_9" class="n"><ellipse cx="2545.3" cy="160.6" rx="131.5" ry="35.5"/><text x="2545.3" y="154.6">5 9<tspan x="2545.3" dy="21">DOUBLECLICK 2</tspan></text></g>
<g id="n5_3" class="n"><ellipse cx="2545.3" cy="280.1" rx="79" ry="35.5"/><text x="2545.3" y="274.1">5 3<tspan x="2545.3" dy="21">analyze 1</tspan></text></g>
<g id="n5_4" class="n"><ellipse cx="2517.6" cy="399.7" rx="37.5" ry="35.5"/><text x="2517.6" y="393.7">5 4<tspan x="2517.6" dy="21">S 1</tspan></text></g>
<g id="n5_5" class="n"><ellipse cx="2509.6" cy="519.2" rx="48" ry="35.5"/><text x="2509.6" y="513.2">5 5<tspan x="2509.6" dy="21">UP 6</tspan></text></g>
<g id="n5_6" class="n"><ellipse cx="2494.4" cy="638.8" rx="74" ry="35.5"/><text x="2494.4" y="632.8">5 6<tspan x="2494.4" dy="21">DOWN 1</tspan></text></g>
<g id="n5_7" class="n"><ellipse cx="2488.2" cy="758.3" rx="131" ry="35.5"/><text x="2488.2" y="752.3">5 7<tspan x="2488.2" dy="21">DOUBLECLICK 1</tspan></text></g>
<g id="n5_8" class="n"><ellipse cx="2572" cy="877.9" rx="69" ry="35.5"/><text x="2572" y="871.9">5 8<tspan x="2572" dy="21">NOOP 0</tspan></text></g>
<g id="n5_17" class="n"><ellipse cx="2572" cy="997.4" rx="78.5" ry="35.5"/><text x="2572" y="991.4">5 17<tspan x="2572" dy="21">analyze 1</tspan></text></g>
<g id="n5_13" class="n"><ellipse cx="2493.5" cy="1117" rx="71.5" ry="35.5"/><text x="2493.5" y="1111">5 13<tspan x="2493.5" dy="21">CLICK 1</tspan></text></g>
<g id="n5_19" class="n"><ellipse cx="2634.6" cy="1117" rx="45" ry="35.5"/><text x="2634.6" y="1111">5 19<tspan x="2634.6" dy="21">S 3</tspan></text></g>
<g id="n5_14" class="n"><ellipse cx="2492.6" cy="1236.5" rx="43.5" ry="35.5"/><text x="2492.6" y="1230.5">5 14<tspan x="2492.6" dy="21">R 8</tspan></text></g>
<g id="n5_20" class="n"><ellipse cx="2636.4" cy="1236.5" rx="45" ry="35.5"/><text x="2636.4" y="1230.5">5 20<tspan x="2636.4" dy="21">R 0</tspan></text></g>
<g id="n5_21" class="n"><ellipse cx="2636.4" cy="1356.1" rx="45" ry="35.5"/><text x="2636.4" y="1350.1">5 21<tspan x="2636.4" dy="21">S 6</tspan></text></g>
<g id="n5_15" class="n"><ellipse cx="2492.6" cy="1475.6" rx="44.5" ry="35.5"/><text x="2492.6" y="1469.6">5 15<tspan x="2492.6" dy="21">S 3</tspan></text></g>
<g id="n5_22" class="n"><ellipse cx="2636.4" cy="1475.6" rx="73.5" ry="35.5"/><text x="2636.4" y="1469.6">5 22<tspan x="2636.4" dy="21">DOWN 4</tspan></text></g>
<g id="n5_16" class="n"><ellipse cx="2523" cy="1595.2" rx="69" ry="35.5"/><text x="2523" y="1589.2">5 16<tspan x="2523" dy="21">NOOP 0</tspan></text></g>
<!-- column 6 -->
<g id="n6_0" class="n"><ellipse cx="2796.2" cy="41" rx="69" ry="35.5"/><text x="2796.2" y="35">6 0<tspan x="2796.2" dy="21">NOOP 0</tspan></text></g>
<g id="n6_2" class="n"><ellipse cx="2796.2" cy="160.6" rx="74" ry="35.5"/><text x="2796.2" y="154.6">6 2<tspan x="2796.2" dy="21">DOWN 3</tspan></text></g>
<g id="n6_3" class="n"><ellipse cx="2796.2" cy="280.1" rx="37.5" ry="35.5"/><text x="2796.2" y="274.1">6 3<tspan x="2796.2" dy="21">S 4</tspan></text></g>
<g id="n6_49" class="n"><ellipse cx="2796.2" cy="399.7" rx="64" ry="35.5"/><text x="2796.2" y="393.7">6 49<tspan x="2796.2" dy="21">LEFT 2</tspan></text></g>
<g id="n6_205" class="n"><ellipse cx="2796.2" cy="519.2" rx="64" ry="35.5"/><text x="2796.2" y="513.2">6 205<tspan x="2796.2" dy="21">LEFT 3</tspan></text></g>
<g id="n6_206" class="n"><ellipse cx="2796.2" cy="638.8" rx="52.5" ry="35.5"/><text x="2796.2" y="632.8">6 206<tspan x="2796.2" dy="21">S 4</tspan></text></g>
<g id="n6_207" class="n"><ellipse cx="2796.2" cy="758.3" rx="52.5" ry="35.5"/><text x="2796.2" y="752.3">6 207<tspan x="2796.2" dy="21">S 8</tspan></text></g>
<g id="n6_195" class="n"><ellipse cx="2796.2" cy="877.9" rx="74" ry="35.5"/><text x="2796.2" y="871.9">6 195<tspan x="2796.2" dy="21">DOWN 1</tspan></text></g>
<g id="n6_142" class="n"><ellipse cx="2796.2" cy="997.4" rx="73.5" ry="35.5"/><text x="2796.2" y="991.4">6 142<tspan x="2796.2" dy="21">RIGHT 1</tspan></text></g>
<g id="n6_152" class="n"><ellipse cx="2796.2" cy="1117" rx="52.5" ry="35.5"/><text x="2796.2" y="1111">6 152<tspan x="2796.2" dy="21">S 1</tspan></text></g>
<g id="n6_168" class="n"><ellipse cx="2796.2" cy="1236.5" rx="73.5" ry="35.5"/><text x="2796.2" y="1230.5">6 168<tspan x="2796.2" dy="21">DOWN 2</tspan></text></g>
<g id="n6_169" class="n"><ellipse cx="2796.2" cy="1356.1" rx="73.5" ry="35.5"/><text x="2796.2" y="1350.1">6 169<tspan x="2796.2" dy="21">DOWN 1</tspan></text></g>
<g id="n6_20" class="n"><ellipse cx="2796.2" cy="1475.6" rx="44.5" ry="35.5"/><text x="2796.2" y="1469.6">6 20<tspan x="2796.2" dy="21">R 0</tspan></text></g>
<g id="n6_202" class="n"><ellipse cx="2796.2" cy="1595.2" rx="132" ry="35.5"/><text x="2796.2" y="1589.2">6 202<tspan x="2796.2" dy="21">DOUBLECLICK 2</tspan></text></g>
<g id="n6_210" class="n"><ellipse cx="2796.2" cy="1714.7" rx="52.5" ry="35.5"/><text x="2796.2" y="1708.7">6 210<tspan x="2796.2" dy="21">S 1</tspan></text></g>
<g id="n6_211" class="n"><ellipse cx="2796.2" cy="1834.3" rx="52.5" ry="35.5"/><text x="2796.2" y="1828.3">6 211<tspan x="2796.2" dy="21">R 0</tspan></text></g>
<g id="n6_201" class="n"><ellipse cx="2796.2" cy="1953.8" rx="132" ry="35.5"/><text x="2796.2" y="1947.8">6 201<tspan x="2796.2" dy="21">DOUBLECLICK 3</tspan></text></g>
<g id="n6_123" class="n"><ellipse cx="2796.2" cy="2073.4" rx="69" ry="35.5"/><text x="2796.2" y="2067.4">6 123<tspan x="2796.2" dy="21">NOOP 0</tspan></text></g>
<!-- column 7 -->
<g id="n7_0" class="n"><ellipse cx="3026.6" cy="41" rx="69" ry="35.5"/><text x="3026.6" y="35">7 0<tspan x="3026.6" dy="21">NOOP 0</tspan></text></g>
<g id="n7_2" class="n"><ellipse cx="3026.6" cy="160.6" rx="37.5" ry="35.5"/><text x="3026.6" y="154.6">7 2<tspan x="3026.6" dy="21">S 3</tspan></text></g>
<g id="n7_5" class="n"><ellipse cx="3026.6" cy="280.1" rx="37.5" ry="35.5"/><text x="3026.6" y="274.1">7 5<tspan x="3026.6" dy="21">S 5</tspan></text></g>
<g id="n7_1" class="n"><ellipse cx="3026.6" cy="399.7" rx="37.5" ry="35.5"/><text x="3026.6" y="393.7">7 1<tspan x="3026.6" dy="21">S 1</tspan></text></g>
<g id="n7_3" class="n"><ellipse cx="3026.6" cy="519.2" rx="37.5" ry="35.5"/><text x="3026.6" y="513.2">7 3<tspan x="3026.6" dy="21">S 1</tspan></text></g>
<g id="n7_10" class="n"><ellipse cx="3026.6" cy="638.8" rx="131.5" ry="35.5"/><text x="3026.6" y="632.8">7 10<tspan x="3026.6" dy="21">DOUBLECLICK 1</tspan></text></g>
<g id="n7_11" class="n"><ellipse cx="3026.6" cy="758.3" rx="48" ry="35.5"/><text x="3026.6" y="752.3">7 11<tspan x="3026.6" dy="21">UP 2</tspan></text></g>
<g id="n7_12" class="n"><ellipse cx="3026.6" cy="877.9" rx="45" ry="35.5"/><text x="3026.6" y="871.9">7 12<tspan x="3026.6" dy="21">S 5</tspan></text></g>
<g id="n7_6" class="n"><ellipse cx="3026.6" cy="997.4" rx="48" ry="35.5"/><text x="3026.6" y="991.4">7 6<tspan x="3026.6" dy="21">UP 1</tspan></text></g>
<g id="n7_7" class="n"><ellipse cx="3026.6" cy="1117" rx="37.5" ry="35.5"/><text x="3026.6" y="1111">7 7<tspan x="3026.6" dy="21">S 1</tspan></text></g>
<g id="n7_8" class="n"><ellipse cx="3026.6" cy="1236.5" rx="131.5" ry="35.5"/><text x="3026.6" y="1230.5">7 8<tspan x="3026.6" dy="21">DOUBLECLICK 2</tspan></text></g>
<g id="n7_9" class="n"><ellipse cx="3026.6" cy="1356.1" rx="69" ry="35.5"/><text x="3026.6" y="1350.1">7 9<tspan x="3026.6" dy="21">NOOP 0</tspan></text></g>
<!-- column 8 -->
<g id="n8_0" class="n"><ellipse cx="3355.1" cy="41" rx="69" ry="35.5"/><text x="3355.1" y="35">8 0<tspan x="3355.1" dy="21">NOOP 0</tspan></text></g>
<g id="n8_1" class="n"><ellipse cx="3355.1" cy="160.6" rx="79" ry="35.5"/><text x="3355.1" y="154.6">8 1<tspan x="3355.1" dy="21">analyze 0</tspan></text></g>
<g id="n8_2" class="n"><ellipse cx="3281" cy="280.1" rx="48" ry="35.5"/><text x="3281" y="274.1">8 2<tspan x="3281" dy="21">UP 2</tspan></text></g>
<g id="n8_882" class="n"><ellipse cx="3459.6" cy="399.7" rx="131.5" ry="35.5"/><text x="3459.6" y="393.7">8 882<tspan x="3459.6" dy="21">DOUBLECLICK 3</tspan></text></g>
<g id="n8_432" class="n"><ellipse cx="3251.6" cy="399.7" rx="53" ry="35.5"/><text x="3251.6" y="393.7">8 432<tspan x="3251.6" dy="21">R 2</tspan></text></g>
<g id="n8_476" class="n"><ellipse cx="3251.6" cy="519.2" rx="55.5" ry="35.5"/><text x="3251.6" y="513.2">8 476<tspan x="3251.6" dy="21">R 432</tspan></text></g>
<g id="n8_616" class="n"><ellipse cx="3251.6" cy="638.8" rx="69" ry="35.5"/><text x="3251.6" y="632.8">8 616<tspan x="3251.6" dy="21">NOOP 0</tspan></text></g>
<g id="n8_737" class="n"><ellipse cx="3257.8" cy="758.3" rx="132" ry="35.5"/><text x="3257.8" y="752.3">8 737<tspan x="3257.8" dy="21">DOUBLECLICK 1</tspan></text></g>
<g id="n8_738" class="n"><ellipse cx="3257.8" cy="877.9" rx="69.5" ry="35.5"/><text x="3257.8" y="871.9">8 738<tspan x="3257.8" dy="21">NOOP 0</tspan></text></g>
<g id="n8_784" class="n"><ellipse cx="3260.5" cy="997.4" rx="131.5" ry="35.5"/><text x="3260.5" y="991.4">8 784<tspan x="3260.5" dy="21">DOUBLECLICK 2</tspan></text></g>
<g id="n8_767" class="n"><ellipse cx="3345.3" cy="1117" rx="69" ry="35.5"/><text x="3345.3" y="1111">8 767<tspan x="3345.3" dy="21">NOOP 0</tspan></text></g>
</g>
<g id="edges" class="e">
<!-- column 0 -->
<path d="M348,76.5L348,125.1"/>
<path d="M368.3,194.9L398.5,246"/>
<path class="d" d="M330.6,197.5C295,270 277,330 277,420L275.2,842.4"/>
<path d="M422.2,315.6L427.3,364.3"/>
<path d="M432.9,435.1L435.7,483.8"/>
<path d="M444.7,554.5L454.5,603.5"/>
<path d="M462.4,674.2L463.6,722.9"/>
<path d="M464.7,793.7L465.1,842.5"/>
<path d="M466.7,913.3L468.5,962"/>
<path d="M477.3,1032.6L487.6,1081.7"/>
<path d="M495.7,1152.4L496.7,1201.1"/>
<path d="M228.7,906.8L126.6,970.8"/>
<path class="d" d="M274.7,913.4L274.7,962"/>
<path d="M244.3,1030.2L191.8,1086.8"/>
<path class="d" d="M288.8,1032.3L308.9,1082.1"/>
<path d="M163.1,1152.4L162.2,1201.1"/>
<path d="M323,1152.5L323,1201"/>
<path class="d" d="M366.3,1146.7L454.1,1206.8"/>
<path d="M485.3,1271.6L468.1,1321.1"/>
<path class="d" d="M522.7,1271.5C545,1310 551,1350 550.5,1400L548.5,1440.3"/>
<path d="M480.6,1389.6L519,1441.9"/>
<path d="M81.2,1032.8C75,1200 66,1350 63,1440.2"/>
<path d="M167.6,1271.8C180,1350 190,1400 193,1440.6"/>
<path d="M317.6,1271.9C309,1330 303.6,1380 303.6,1450L303.6,2080C303.6,2160 270,2230 258,2279"/>
<path d="M536.9,1511L527.4,1559.8"/>
<path class="d" d="M593,1503.4L706.2,1567.4"/>
<path d="M227.7,1507.4C280,1560 330,1620 420,1655C480,1675 540,1680 584.8,1693"/>
<path d="M503.2,1630.4L478.6,1680.2"/>
<path class="d" d="M725.7,1628.1L677,1681.8"/>
<path d="M773.9,1629.7L801.4,1680.8"/>
<path d="M82.1,1507.4C120,1570 154.5,1640 154.5,1720L154.5,1840C154.5,1960 260,2020 390,2053.5"/>
<path d="M460.5,1750.1L459.1,1798.9"/>
<path d="M638.9,1750L627.2,1799"/>
<path class="d" d="M669.6,1748.7C700,1800 750,1870 781.3,1922"/>
<path d="M820.1,1750.1L820.9,1798.9"/>
<path d="M456.4,1869.7L454.3,1918.4"/>
<path d="M817.7,1869.7L812.7,1918.4"/>
<path d="M452.2,1989.2L451.4,2038"/>
<path d="M809,1989.3L809,2037.9"/>
<path d="M450.9,2108.9L450.9,2157.4"/>
<path d="M450.9,2228.4L450.9,2277"/>
<path d="M618.8,1869.8L619.6,2396.5"/>
<path d="M450.9,2348L450.9,2396.5"/>
<path d="M450.9,2467.5L450.9,2516.1"/>
<path d="M450.9,2587.1L450.9,2635.6"/>
<path d="M622.3,2467.4C622,2530 600,2600 507,2651"/>
<path d="M809,2108.9L809,2516.1"/>
<path d="M243.7,2348C260,2430 280,2560 320,2650C345,2705 380,2740 412.5,2759.5"/>
<path d="M448.5,2706.5L445.3,2755.3"/>
<path d="M442.9,2826.2L442.9,2874.7"/>
<path d="M442.9,2945.7L442.9,2994.3"/>
<path d="M442.9,3065.3L442.9,3113.8"/>
<path d="M442.9,3184.8L442.9,3233.4"/>
<path d="M441.6,3304.3L439.7,3353"/>
<path class="d" d="M485.2,3298.9L571.8,3360.2"/>
<path d="M438.1,3423.8L437.8,3472.6"/>
<path d="M615.3,3423.8L620.3,3472.6"/>
<path d="M625.4,3543.4L627.2,3592.1"/>
<path d="M434.8,3543.3L424.3,3711.6"/>
<path d="M632,3662.9L636.8,3711.7"/>
<path d="M640.2,3782.6L640.2,3831.1"/>
<path d="M640.2,3902.1L640.2,3950.7"/>
<path d="M640.2,4021.7L640.2,4070.2"/>
<path d="M640.2,4141.2L640.2,4189.8"/>
<path d="M622.3,4259.9C600,4310 575,4370 560,4429.4"/>
<path class="d" d="M650.7,4260.1L665.4,4309.8"/>
<path d="M683.5,4380L694.2,4429.2"/>
<path d="M696.5,4499.8L689.3,4548.5"/>
<path d="M558,4499.6L600.9,4668.4"/>
<path d="M663.4,4617.4L631.5,4669.6"/>
<path d="M809,2587.1L809,4490C809,4580 760,4640 668,4683"/>
<path d="M599.2,4738.5L582.9,4788.1"/>
<path d="M560.2,4857.9L544.2,4907.7"/>
<path d="M517.6,4977L494.9,5027.7"/>
<path d="M424.2,3782.6C428,3850 431.3,3900 431.3,3970L431.3,4830C431.3,4920 450,4980 464.3,5027.7"/>
<path d="M479.5,5097.6L479.5,5146.2"/>
<path d="M479.5,5217.2L479.5,5265.7"/>
<path d="M479.5,5336.7L479.5,5385.3"/>
<!-- column 1 -->
<path d="M1034.8,76.5L1034.8,125.1"/>
<path d="M1034.8,196.1L1034.8,244.6"/>
<path d="M1034.8,315.6L1034.8,364.2"/>
<path d="M1034.8,435.2L1034.8,483.7"/>
<path d="M1034.8,554.7L1034.8,603.3"/>
<path d="M1034.8,674.3L1034.8,722.8"/>
<path d="M1034.8,793.8L1034.8,842.4"/>
<path d="M1034.8,913.4L1034.8,961.9"/>
<path d="M1051.4,1032.1L1075.6,1082.6"/>
<path class="d" d="M1023.2,1032.5C1015,1080 1011,1130 1011.5,1201"/>
<path d="M1070,1150.4L1034.8,1204"/>
<path d="M1013.4,1272L1013.4,1320.6"/>
<path d="M1013.4,1391.6L1013.4,1440.1"/>
<path d="M1013.4,1511.1L1013.4,1559.7"/>
<path d="M1013.4,1630.7L1013.4,1679.2"/>
<!-- column 2 -->
<path d="M1266,76.5L1266,125.1"/>
<path class="d" d="M1288.2,194.7L1322.6,247.6"/>
<path d="M1260.7,196C1250,280 1243,340 1243,420L1243,680C1243,750 1270,800 1303.6,847"/>
<path d="M1347,315.5L1351.3,364.3"/>
<path d="M1352.9,435.1L1350.6,483.8"/>
<path d="M1348.2,554.6L1347.2,603.4"/>
<path d="M1343.8,674.2L1340.1,722.9"/>
<path d="M1335.1,793.7L1331.9,842.5"/>
<path d="M1329.5,913.4L1329.5,961.9"/>
<path d="M1329.5,1032.9L1329.5,1081.5"/>
<path d="M1329.5,1152.5L1329.5,1201"/>
<path d="M1329.5,1272L1329.5,1320.6"/>
<path d="M1329.5,1391.6L1329.5,1440.1"/>
<path d="M1329.5,1511.1L1329.5,1559.7"/>
<!-- column 3 -->
<path d="M1555.4,76.5L1555.4,125.1"/>
<path d="M1555.4,196.1L1555.4,244.6"/>
<path d="M1555.4,315.6L1555.4,364.2"/>
<path d="M1555.4,435.2L1555.4,483.7"/>
<path d="M1555.4,554.7L1555.4,603.3"/>
<path d="M1555.4,674.3L1555.4,722.8"/>
<path d="M1555.4,793.8L1555.4,842.4"/>
<path d="M1555.4,913.4L1555.4,961.9"/>
<path d="M1555.4,1032.9L1555.4,1081.5"/>
<path d="M1555.4,1152.5L1555.4,1201"/>
<path d="M1555.4,1272L1555.4,1320.6"/>
<path d="M1555.4,1391.6L1555.4,1440.1"/>
<path d="M1555.4,1511.1L1555.4,1559.7"/>
<!-- column 4 -->
<path d="M2177.7,76.5L2177.7,125.1"/>
<path d="M2177.7,196.1L2177.7,244.6"/>
<path d="M2177.7,315.6L2177.7,364.2"/>
<path d="M2177.7,435.2L2177.7,483.7"/>
<path d="M2177.7,554.7L2177.7,603.3"/>
<path d="M2177.7,674.3L2177.7,722.8"/>
<path class="d" d="M2136.8,788.7L2057.8,847.5"/>
<path d="M2185.1,793.7L2195.3,842.7"/>
<path class="d" d="M1976.1,908.3L1896.2,967.6"/>
<path d="M2017,913.4L2017,961.9"/>
<path d="M2210.1,913.1L2220.3,961.9"/>
<path d="M1856,1032.9L1856,1081.5"/>
<path d="M2018.5,1032.9L2029.5,1201"/>
<path d="M2227.5,1032.9L2227.5,1081.5"/>
<path d="M1856,1152.5L1856,1201"/>
<path d="M2227.5,1152.5L2227.5,1201"/>
<path class="d" d="M1834.2,1270.6L1800.9,1322.7"/>
<path d="M1877.2,1270.7L1909.3,1322.7"/>
<path d="M2227.5,1272L2227.5,1320.6"/>
<path d="M1779.8,1391.5L1780.1,1440.2"/>
<path d="M1948.3,1390L1976.1,1441.3"/>
<path d="M2025.3,1271.5C2018,1330 2005,1390 2000,1440.3"/>
<path d="M2227.5,1391.6L2227.5,1440.1"/>
<path d="M1780.4,1511.1L1780.4,1559.7"/>
<path d="M2227.5,1511.1L2227.5,1559.7"/>
<path d="M1780.4,1630.7L1780.4,1679.2"/>
<path d="M1994.6,1511.1L1994.6,2277"/>
<path d="M2244.3,1629.9L2267.7,1680.3"/>
<path class="d" d="M2215.9,1630.3C2207,1690 2205,1760 2205,1830C2206,1870 2215,1900 2225,1919"/>
<path class="d" d="M1747.6,1747L1691.8,1802"/>
<path d="M1781,1750.2C1783,1950 1786,2200 1788.5,2396.5"/>
<path d="M2283.4,1750.1L2282.6,1798.9"/>
<path class="d" d="M1619,1864.9L1542.7,1923.2"/>
<path d="M1659,1869.8L1659,2037.9"/>
<path d="M2271.3,1869.3L2256.7,1918.3"/>
<path d="M1502.7,1989.3L1502.7,2037.9"/>
<path class="d" d="M1468.7,1985.8C1440,2030 1405,2080 1395,2157.4"/>
<path d="M2245.5,1989.3L2245.5,2037.9"/>
<path d="M1533,2104.9L1587.9,2161.8"/>
<path d="M1647,2108.3L1629.9,2158.1"/>
<path d="M2245.5,2108.9L2245.5,2157.4"/>
<path d="M1391.1,2228.3L1389.9,2277.1"/>
<path d="M1617.9,2228.4L1617.9,2277"/>
<path d="M2245.5,2228.4L2245.5,2516.1"/>
<path d="M1388.6,2347.9L1387.9,2396.6"/>
<path d="M1617.9,2348L1617.9,2396.5"/>
<path d="M1387.5,2467.5L1387.5,2516.1"/>
<path d="M1617.9,2467.5L1617.9,2516.1"/>
<path d="M1617.9,2587.1L1617.9,2635.6"/>
<path d="M1994.6,2348L1994.6,2635.6"/>
<path d="M1617.9,2706.6L1617.9,2755.2"/>
<path d="M1994.6,2706.6L1994.6,2755.2"/>
<path d="M1603.3,2825.2L1582.7,2874.8"/>
<path class="d" d="M1660.7,2820.5L1749,2882.1"/>
<path d="M1789.3,2467.5L1789.3,2874.7"/>
<path d="M1994.6,2826.2L1994.6,2874.7"/>
<path d="M1567.9,2945.7L1567.9,2994.3"/>
<path d="M1789.3,2945.7L1789.3,2994.3"/>
<path d="M1567.9,3065.3L1567.9,3113.8"/>
<path d="M1789.3,3065.3L1789.3,3113.8"/>
<path d="M1994.6,2945.7L1994.6,3113.8"/>
<path d="M1567.9,3184.8L1567.9,3233.4"/>
<path d="M1789.3,3184.8L1789.3,3233.4"/>
<path d="M1995.6,3184.7L1997,3233.5"/>
<path class="d" d="M1966,3182.4L1821.4,3354.1"/>
<path d="M1387.5,2587.1L1387.5,3352.9"/>
<path d="M1567.9,3304.4L1567.9,3352.9"/>
<path d="M1788.8,3304.3L1788,3353"/>
<path d="M2019.7,3302.2L2053.1,3353.4"/>
<path d="M1415.1,3421.7L1459.8,3475.6"/>
<path class="d" d="M1382,3423.8C1384,3500 1395,3545 1440,3565C1500,3592 1580,3612 1647.5,3621"/>
<path d="M1588.6,3422.2L1620.4,3474.4"/>
<path d="M1788.8,3423.8L1790.7,3472.6"/>
<path d="M2057.8,3423.6L2032,3473.7"/>
<path d="M1533.8,3532.6L1667.5,3602.2"/>
<path d="M1662,3541.5L1694.8,3593.7"/>
<path d="M1770.8,3541.3L1737.4,3593.8"/>
<path d="M1959.9,3529.8L1770.4,3605.7"/>
<path d="M2245.5,2587.1L2245.5,3390C2245.5,3560 2050,3615 1785,3629"/>
<!-- column 5 -->
<path d="M2545.3,76.5L2545.3,125.1"/>
<path d="M2545.3,196.1L2545.3,244.6"/>
<path d="M2537.1,315.5L2525.6,365"/>
<path class="d" d="M2577.5,312.5C2620,380 2657.8,450 2657.8,540L2657.8,680C2657.8,760 2630,810 2604,846.5"/>
<path d="M2515.2,435L2512,483.8"/>
<path d="M2505.1,554.6L2498.9,603.4"/>
<path d="M2492.6,674.2L2490,722.9"/>
<path d="M2512.7,793.2L2548.6,844.5"/>
<path d="M2572,913.4L2572,961.9"/>
<path d="M2549.7,1031.4L2515.7,1083.3"/>
<path class="d" d="M2590.1,1032L2617.4,1084.2"/>
<path d="M2493.2,1152.4L2492.9,1201.1"/>
<path d="M2635.1,1152.4L2635.9,1201.1"/>
<path d="M2492.6,1272L2492.6,1440.1"/>
<path d="M2636.4,1272L2636.4,1320.6"/>
<path d="M2636.4,1391.6L2636.4,1440.1"/>
<path d="M2501.4,1510.4L2514.1,1560"/>
<path d="M2605.6,1508.1L2553.3,1563.3"/>
<!-- column 6 -->
<path d="M2796.2,76.5L2796.2,125.1"/>
<path d="M2796.2,196.1L2796.2,244.6"/>
<path d="M2796.2,315.6L2796.2,364.2"/>
<path d="M2796.2,435.2L2796.2,483.7"/>
<path d="M2796.2,554.7L2796.2,603.3"/>
<path d="M2796.2,674.3L2796.2,722.8"/>
<path d="M2796.2,793.8L2796.2,842.4"/>
<path d="M2796.2,913.4L2796.2,961.9"/>
<path d="M2796.2,1032.9L2796.2,1081.5"/>
<path d="M2796.2,1152.5L2796.2,1201"/>
<path d="M2796.2,1272L2796.2,1320.6"/>
<path d="M2796.2,1391.6L2796.2,1440.1"/>
<path d="M2796.2,1511.1L2796.2,1559.7"/>
<path d="M2796.2,1630.7L2796.2,1679.2"/>
<path d="M2796.2,1750.2L2796.2,1798.8"/>
<path d="M2796.2,1869.8L2796.2,1918.3"/>
<path d="M2796.2,1989.3L2796.2,2037.9"/>
<!-- column 7 -->
<path d="M3026.6,76.5L3026.6,125.1"/>
<path d="M3026.6,196.1L3026.6,244.6"/>
<path d="M3026.6,315.6L3026.6,364.2"/>
<path d="M3026.6,435.2L3026.6,483.7"/>
<path d="M3026.6,554.7L3026.6,603.3"/>
<path d="M3026.6,674.3L3026.6,722.8"/>
<path d="M3026.6,793.8L3026.6,842.4"/>
<path d="M3026.6,913.4L3026.6,961.9"/>
<path d="M3026.6,1032.9L3026.6,1081.5"/>
<path d="M3026.6,1152.5L3026.6,1201"/>
<path d="M3026.6,1272L3026.6,1320.6"/>
<!-- column 8 -->
<path d="M3355.1,76.5L3355.1,125.1"/>
<path d="M3333.9,194.8L3301,247.8"/>
<path class="d" d="M3370.3,195.4L3443.5,364.4"/>
<path d="M3272.4,315L3260.2,364.7"/>
<path d="M3251.6,435.2L3251.6,483.7"/>
<path d="M3251.6,554.7L3251.6,603.3"/>
<path d="M3253.4,674.2L3256,722.9"/>
<path d="M3257.8,793.8L3257.8,842.4"/>
<path d="M3258.6,913.3L3259.7,962"/>
<path d="M3285.2,1032.3L3321.6,1083.7"/>
<path d="M3457,435.2L3450,920C3450,980 3420,1035 3378.5,1086"/>
</g>
</svg>
